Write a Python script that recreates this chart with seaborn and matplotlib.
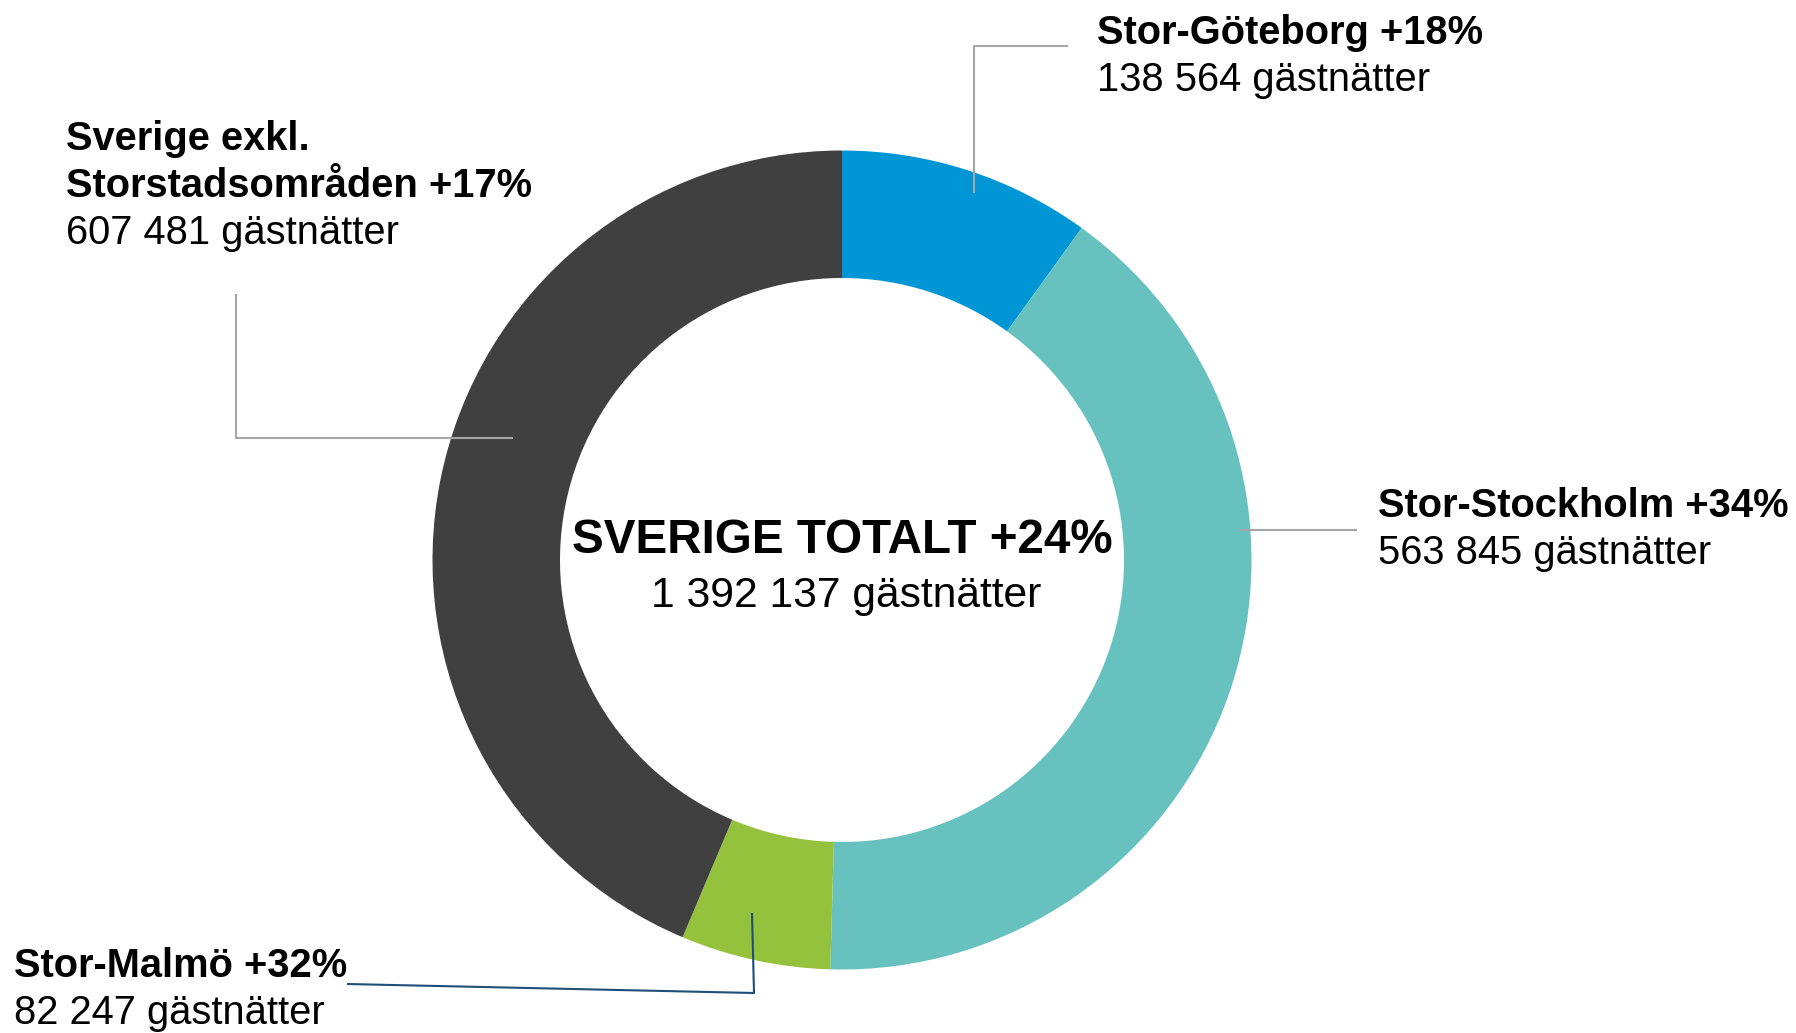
import matplotlib
matplotlib.use("Agg")
import matplotlib.pyplot as plt
import seaborn as sns

# Gästnätter per region (medurs från toppen)
regions = ["Stor-Göteborg", "Stor-Stockholm", "Stor-Malmö", "Sverige exkl.\nStorstadsområden"]
nights = [138564, 563845, 82247, 607481]
growth = [18, 34, 32, 17]
colors = ["#0096D6", "#67C2BF", "#95C23D", "#404040"]

total_label = "SVERIGE TOTALT"
total_nights = 1392137
total_growth = 24

sns.set_theme(style="white")
plt.rcParams["font.family"] = ["Liberation Sans", "DejaVu Sans"]

W, H = 1796, 1033
fig = plt.figure(figsize=(W / 100, H / 100), dpi=100)
ax = fig.add_axes([0, 0, 1, 1])

def fmt(n):
    return f"{n:,}".replace(",", " ")

# donut
cx, cy = 842, H - 560
r_out, r_in = 409.5, 282
ax.pie(nights, colors=colors, startangle=90, counterclock=False,
       center=(cx, cy), radius=r_out,
       wedgeprops=dict(width=r_out - r_in, linewidth=0))
ax.set_xlim(0, W)
ax.set_ylim(0, H)
ax.set_aspect("equal")
ax.axis("off")

# center text
ax.text(cx, H - 553, f"{total_label} +{total_growth}%", ha="center", va="baseline",
        fontsize=34.3, fontweight="bold", color="black")
ax.text(cx + 4, H - 607, f"{fmt(total_nights)} gästnätter", ha="center", va="baseline",
        fontsize=30.7, color="black")

# label layout: text left x, first baseline y, leader polyline (pixels, y down)
layout = [
    dict(x=1097, y=44, line=[(974, 193), (974, 46), (1068, 46)], lc="#A6A6A6"),
    dict(x=1378, y=517, line=[(1239, 530), (1357, 530)], lc="#A6A6A6"),
    dict(x=14, y=977, line=[(752, 913), (754, 993), (347, 984)], lc="#1F4E79"),
    dict(x=66, y=150, line=[(513, 438), (236, 438), (236, 294)], lc="#A6A6A6"),
]
step = 47

for name, n, g, lay in zip(regions, nights, growth, layout):
    xs = [p[0] for p in lay["line"]]
    ys = [H - p[1] for p in lay["line"]]
    ax.plot(xs, ys, color=lay["lc"], lw=1.5, solid_capstyle="butt")
    lines = name.split("\n")
    lines[-1] = f"{lines[-1]} +{g}%"
    y = lay["y"]
    for ln in lines:
        ax.text(lay["x"], H - y, ln, ha="left", va="baseline",
                fontsize=28.7, fontweight="bold", color="black")
        y += step
    ax.text(lay["x"], H - y, f"{fmt(n)} gästnätter", ha="left", va="baseline",
            fontsize=28.7, color="black")

fig.savefig("out.png", dpi=100, facecolor="white")
